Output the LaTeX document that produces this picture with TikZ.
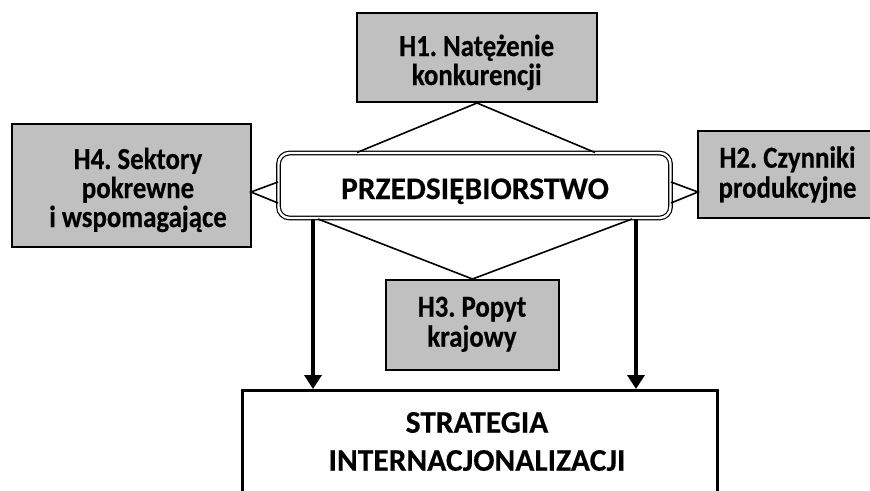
\documentclass[tikz,border=0pt]{standalone}
\usepackage{fontspec}
\setmainfont{Carlito}
\newfontfamily\labelfont{Carlito}[FakeStretch=0.88,FakeBold=0.4]
\newfontfamily\titlefont{Carlito}[FakeBold=0.3]
\usetikzlibrary{arrows.meta}
\definecolor{boxgray}{RGB}{192,192,192}
\begin{document}
\frenchspacing
\begin{tikzpicture}[x=1pt,y=-1pt,
  factor/.style={draw=black, line width=2pt, fill=boxgray, inner sep=0pt},
  caption/.style={inner sep=0pt, anchor=base,
    font=\labelfont\fontsize{30.5}{29}\selectfont\bfseries},
  title/.style={inner sep=0pt, anchor=base,
    font=\titlefont\fontsize{31.5}{38}\selectfont\bfseries},
  link/.style={line width=1.6pt},
  flow/.style={line width=4pt, -{Triangle[width=17pt,length=14pt]}},
]
\useasboundingbox (0,0) rectangle (870,490);
\clip (0,0) rectangle (870,490);

% the four determinants
\node[factor, minimum width=240pt, minimum height=89pt] (h1) at (477,57.5) {};
\node[factor, minimum width=177pt, minimum height=87pt] (h2) at (786.5,174.5) {};
\node[factor, minimum width=173pt, minimum height=90pt] (h3) at (472.5,325) {};
\node[factor, minimum width=239pt, minimum height=123pt] (h4) at (131.5,185.5) {};

% the firm in the middle
\node[draw=black, double=white, double distance=2.4pt, line width=1.2pt,
  rounded corners=11pt, fill=white, inner sep=0pt,
  minimum width=392pt, minimum height=65pt] (firm) at (474.5,185.5) {};

% the strategy box, running off the lower edge
\node[draw=black, line width=3pt, fill=white, inner sep=0pt,
  minimum width=475pt, minimum height=140pt, anchor=north] (strat) at (479.5,389) {};

% texts, one node per line, placed on their baselines
\node[caption] (h1a) at (476.7,56) {H1. Natężenie};
\node[caption] (h1b) at (476.7,85) {konkurencji};
\node[caption] (h2a) at (787.5,167.7) {H2. Czynniki};
\node[caption] (h2b) at (787.5,197.7) {produkcyjne};
\node[caption] (h3a) at (472,316.7) {H3. Popyt};
\node[caption] (h3b) at (472,346.7) {krajowy};
\node[caption] (h4a) at (138,169) {H4. Sektory};
\node[caption] (h4b) at (138,198) {pokrewne};
\node[caption] (h4c) at (138,227) {i wspomagające};
\node[title] (firmt) at (475,199) {PRZEDSIĘBIORSTWO};
\node[title] (strata) at (477,432.7) {STRATEGIA};
\node[title] (stratb) at (477,470.7) {INTERNACJONALIZACJI};

% points where the diamond of links meets the firm box
\coordinate (fn1) at (357,152.5);
\coordinate (fn2) at (595,152.5);
\coordinate (fe1) at (671,182);
\coordinate (fe2) at (671,203);
\coordinate (fs1) at (318,219);
\coordinate (fs2) at (632,219);
\coordinate (fw1) at (278,182);
\coordinate (fw2) at (278,203);
\coordinate (a2) at (698,192);
\coordinate (a4) at (251,192);

\draw[link] (fn1) -- (h1.south) -- (fn2);
\draw[link] (fe1) -- (a2) -- (fe2);
\draw[link] (fs1) -- (h3.north) -- (fs2);
\draw[link] (fw1) -- (a4) -- (fw2);

% arrows down to the strategy
\draw[flow] (firm.south -| 313,0) -- (strat.north -| 313,0);
\draw[flow] (firm.south -| 636,0) -- (strat.north -| 636,0);
\end{tikzpicture}
\end{document}
